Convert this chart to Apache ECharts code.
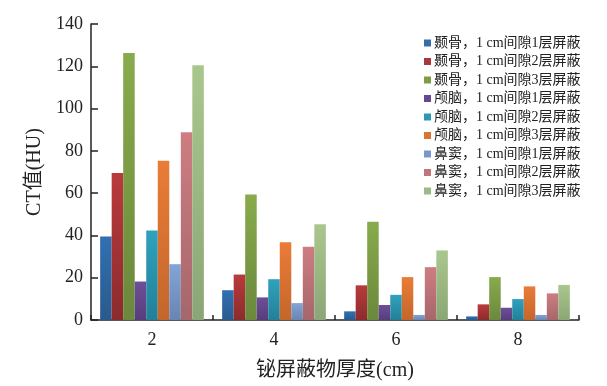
<!DOCTYPE html>
<html>
<head>
<meta charset="utf-8">
<script src="https://cdn.jsdelivr.net/npm/echarts@6/dist/echarts.min.js"></script>
<style>html,body{margin:0;padding:0;background:#fff;}#c{width:607px;height:386px;}</style>
</head>
<body>
<div id="c"></div>
<script>
var categories = ['2', '4', '6', '8'];
var seriesNames = [
  '颞骨，1 cm间隙1层屏蔽', '颞骨，1 cm间隙2层屏蔽', '颞骨，1 cm间隙3层屏蔽',
  '颅脑，1 cm间隙1层屏蔽', '颅脑，1 cm间隙2层屏蔽', '颅脑，1 cm间隙3层屏蔽',
  '鼻窦，1 cm间隙1层屏蔽', '鼻窦，1 cm间隙2层屏蔽', '鼻窦，1 cm间隙3层屏蔽'
];
var temporal1 = [39.5, 14.1, 4.1, 1.7];
var temporal2 = [69.5, 21.5, 16.4, 7.4];
var temporal3 = [126.3, 59.4, 46.5, 20.3];
var brain1 = [18.2, 10.7, 7.1, 5.8];
var brain2 = [42.3, 19.3, 11.9, 9.9];
var brain3 = [75.3, 36.8, 20.3, 15.9];
var sinus1 = [26.4, 8.0, 2.4, 2.4];
var sinus2 = [88.8, 34.7, 25.0, 12.6];
var sinus3 = [120.5, 45.3, 32.9, 16.6];
var yTicks = [0, 20, 40, 60, 80, 100, 120, 140];

var allData = [temporal1, temporal2, temporal3, brain1, brain2, brain3, sinus1, sinus2, sinus3];
var colorsTop = ['#3170B3', '#BA3A3C', '#88AB4C', '#6E4F98', '#2FA2BE', '#EA7C37', '#82A5D6', '#CE7D82', '#A9C78D'];
var colorsBot = ['#2A5A8C', '#8C2B2C', '#6B883C', '#573D7C', '#247F98', '#C4662B', '#6985B2', '#A5676B', '#8BA676'];
var legendColors = ['#3A6DA8', '#A8383A', '#7D9D45', '#654890', '#2D98B2', '#DB7432', '#7898C8', '#BF767A', '#9DBA84'];

var serif = "'Liberation Serif', 'Noto Sans CJK SC', serif";

var series = allData.map(function (d, i) {
  return {
    name: seriesNames[i],
    type: 'bar',
    data: d,
    barGap: '0%',
    barCategoryGap: '15%',
    itemStyle: {
      color: new echarts.graphic.LinearGradient(0, 0, 0, 1, [
        {offset: 0, color: colorsTop[i]},
        {offset: 1, color: colorsBot[i]}
      ])
    }
  };
});

var chart = echarts.init(document.getElementById('c'), null, {renderer: 'canvas'});
chart.setOption({
  animation: false,
  backgroundColor: '#fff',
  legend: {
    orient: 'vertical',
    left: 419,
    top: 31,
    itemWidth: 7,
    itemHeight: 7,
    itemGap: 4.5,
    icon: 'rect',
    textStyle: {fontFamily: serif, fontSize: 14, color: '#222', padding: [0, 0, 0, -2]},
    data: seriesNames.map(function (n, i) {
      return {name: n, itemStyle: {color: legendColors[i]}};
    })
  },
  grid: {left: 91, right: 28, top: 24, bottom: 65},
  xAxis: {
    type: 'category',
    data: categories,
    name: '铋屏蔽物厚度(cm)',
    nameLocation: 'middle',
    nameGap: 41,
    nameTextStyle: {fontFamily: serif, fontSize: 20, color: '#222'},
    axisLine: {lineStyle: {color: '#222', width: 1.5}},
    axisTick: {show: true, inside: true, length: 5, interval: 0, lineStyle: {color: '#222', width: 1.5}},
    axisLabel: {fontFamily: serif, fontSize: 18, color: '#222', margin: 11}
  },
  yAxis: {
    type: 'value',
    min: 0,
    max: 140,
    interval: 20,
    name: 'CT值(HU)',
    nameLocation: 'middle',
    nameGap: 41,
    nameTextStyle: {fontFamily: serif, fontSize: 20, color: '#222'},
    axisLine: {show: true, lineStyle: {color: '#222', width: 1.5}},
    axisTick: {show: true, inside: true, length: 7, lineStyle: {color: '#222', width: 1.5}},
    axisLabel: {fontFamily: serif, fontSize: 18, color: '#222', margin: 8,
      formatter: function (v) { return yTicks.indexOf(v) >= 0 ? String(v) : ''; }},
    splitLine: {show: false}
  },
  series: series
});
</script>
</body>
</html>
